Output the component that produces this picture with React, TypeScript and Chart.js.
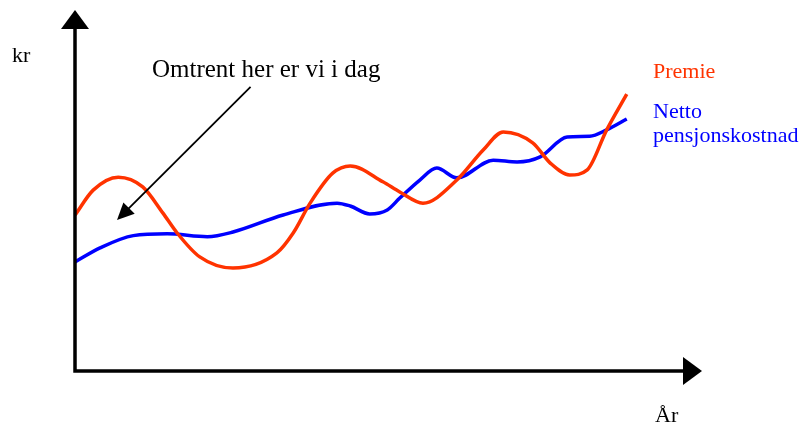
import React, { useEffect, useRef } from "react";
import { Chart, registerables } from "chart.js";

Chart.register(...registerables);

// x: time (0..100 along the year axis), y: amount (0..100 along the kr axis)
const premieX = [0, 2.9, 6.9, 10.8, 14.0, 16.3, 19.9, 25.2, 32.2, 34.8, 37.5, 41.1, 43.9, 49.1, 51.8, 55.5, 60.9, 65.1, 68.3, 73.0, 75.8, 78.9, 81.7, 84.8, 88.0];
const premieY = [43.2, 50.1, 53.7, 51.0, 43.8, 38.2, 31.6, 28.5, 32.7, 38.2, 46.5, 54.8, 56.8, 52.4, 49.6, 46.5, 52.9, 61.2, 66.2, 63.2, 57.6, 54.3, 55.7, 66.8, 76.7];

const nettoX = [0, 4.0, 9.3, 14.7, 21.1, 25.2, 33.2, 41.8, 43.9, 47.0, 49.8, 51.8, 55.0, 57.7, 60.9, 66.7, 70.5, 74.2, 78.5, 82.1, 84.8, 88.0];
const nettoY = [30.2, 34.1, 37.5, 38.0, 37.2, 38.5, 43.2, 46.5, 45.7, 43.5, 44.6, 47.9, 52.9, 56.2, 53.5, 58.4, 57.9, 59.3, 64.8, 65.0, 66.8, 69.8];

const seriesNames = ["Premie", "Netto pensjonskostnad"];
const yAxisLabel = "kr";
const xAxisLabel = "År";
const annotationText = "Omtrent her er vi i dag";
// annotation arrow: from (start) to (tip), in data units
const annotationStart = { x: 28.0, y: 78.7 };
const annotationTip = { x: 6.7, y: 41.8 };

const RED = "#FF3300";
const BLUE = "#0000FF";
const FONT = "'Liberation Serif', 'Times New Roman', serif";

function drawHead(ctx: CanvasRenderingContext2D, tx: number, ty: number, angle: number, len: number, half: number) {
  ctx.save();
  ctx.translate(tx, ty);
  ctx.rotate(angle);
  ctx.beginPath();
  ctx.moveTo(0, 0);
  ctx.lineTo(-len, -half);
  ctx.lineTo(-len, half);
  ctx.closePath();
  ctx.fill();
  ctx.restore();
}

const decorPlugin = {
  id: "decor",
  afterDatasetsDraw(chart: any) {
    const ctx: CanvasRenderingContext2D = chart.ctx;
    const xs = chart.scales.x;
    const ys = chart.scales.y;
    const x0 = xs.getPixelForValue(0);
    const y0 = ys.getPixelForValue(0);
    const xEnd = xs.getPixelForValue(100);
    const yTop = ys.getPixelForValue(100);
    ctx.save();
    ctx.strokeStyle = "#000";
    ctx.fillStyle = "#000";
    ctx.lineWidth = 3.5;
    ctx.lineCap = "butt";
    ctx.lineJoin = "miter";
    ctx.beginPath();
    ctx.moveTo(x0, yTop + 15);
    ctx.lineTo(x0, y0);
    ctx.lineTo(xEnd - 15, y0);
    ctx.stroke();
    drawHead(ctx, x0, yTop, -Math.PI / 2, 19, 14);
    drawHead(ctx, xEnd, y0, 0, 19, 14);

    // annotation arrow
    const sx = xs.getPixelForValue(annotationStart.x);
    const sy = ys.getPixelForValue(annotationStart.y);
    const tx = xs.getPixelForValue(annotationTip.x);
    const ty = ys.getPixelForValue(annotationTip.y);
    const ang = Math.atan2(ty - sy, tx - sx);
    ctx.lineWidth = 1.8;
    ctx.beginPath();
    ctx.moveTo(sx, sy);
    ctx.lineTo(tx - Math.cos(ang) * 12, ty - Math.sin(ang) * 12);
    ctx.stroke();
    drawHead(ctx, tx, ty, ang, 17, 8);

    // texts
    ctx.textBaseline = "alphabetic";
    ctx.textAlign = "left";
    ctx.fillStyle = "#000";
    ctx.font = `25px ${FONT}`;
    ctx.fillText(annotationText, 152, 77);
    ctx.font = `22px ${FONT}`;
    ctx.fillText(yAxisLabel, 12, 62);
    ctx.fillText(xAxisLabel, 655, 422);
    ctx.fillStyle = RED;
    ctx.fillText(seriesNames[0], 653, 78);
    ctx.fillStyle = BLUE;
    const parts = seriesNames[1].split(" ");
    ctx.fillText(parts[0], 653, 118);
    ctx.fillText(parts[1], 653, 142);
    ctx.restore();
  },
};

export default function App() {
  const ref = useRef<HTMLCanvasElement | null>(null);
  useEffect(() => {
    if (!ref.current) return;
    const chart = new Chart(ref.current, {
      type: "line",
      data: {
        datasets: [
          {
            label: seriesNames[0],
            data: premieX.map((x, i) => ({ x, y: premieY[i] })),
            borderColor: RED,
            borderWidth: 3.5,
            pointRadius: 0,
            cubicInterpolationMode: "monotone",
            fill: false,
          },
          {
            label: seriesNames[1],
            data: nettoX.map((x, i) => ({ x, y: nettoY[i] })),
            borderColor: BLUE,
            borderWidth: 3.5,
            pointRadius: 0,
            cubicInterpolationMode: "monotone",
            fill: false,
          },
        ],
      },
      options: {
        animation: false,
        responsive: false,
        devicePixelRatio: 1,
        clip: false as any,
        layout: { padding: { left: 75, right: 101, top: 10, bottom: 54 } },
        scales: {
          x: { type: "linear", min: 0, max: 100, display: false },
          y: { type: "linear", min: 0, max: 100, display: false },
        },
        plugins: {
          legend: { display: false },
          tooltip: { enabled: false },
        },
      },
      plugins: [decorPlugin],
    });
    return () => chart.destroy();
  }, []);
  return (
    <div style={{ position: "absolute", left: 0, top: 0, width: 803, height: 425, background: "#fff" }}>
      <canvas ref={ref} width={803} height={425} style={{ width: 803, height: 425, display: "block" }} />
    </div>
  );
}
